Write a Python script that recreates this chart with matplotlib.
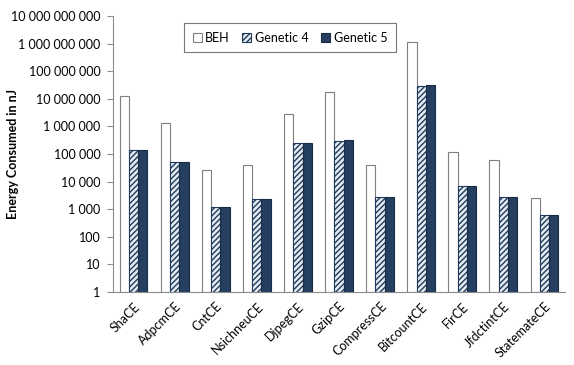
import numpy as np
import matplotlib as mpl
import matplotlib.pyplot as plt
from matplotlib.ticker import FixedLocator

plt.rcParams['font.family'] = ['Lato', 'DejaVu Sans']
mpl.rcParams['hatch.linewidth'] = 1.0

benchmarks = ['ShaCE', 'AdpcmCE', 'CntCE', 'NsichneuCE', 'DjpegCE', 'GzipCE',
              'CompressCE', 'BitcountCE', 'FirCE', 'JfdctintCE', 'StatemateCE']
beh = [1.3e7, 1.3e6, 2.7e4, 4.0e4, 2.9e6, 1.7e7, 3.9e4, 1.15e9, 1.15e5, 6.3e4, 2.5e3]
genetic4 = [1.4e5, 5.1e4, 1.2e3, 2.3e3, 2.5e5, 3.0e5, 2.8e3, 3.0e7, 6.9e3, 2.8e3, 620]
genetic5 = [1.4e5, 5.2e4, 1.2e3, 2.3e3, 2.6e5, 3.1e5, 2.8e3, 3.1e7, 6.9e3, 2.8e3, 620]
y_ticks = [10 ** k for k in range(11)]

fig = plt.figure(figsize=(5.74, 3.65), dpi=100)
ax = fig.add_axes([113 / 574, 1 - 292 / 365, 452 / 574, 276 / 365])

x = np.arange(len(benchmarks))
w = 0.225
dark = '#243f60'
ax.bar(x - w, beh, w, bottom=1, color='white', edgecolor='#7f7f7f', lw=0.8, label='BEH')
ax.bar(x, genetic4, w, bottom=1, color='#e4ebf3', edgecolor='#1f3a5a', hatch='//////', lw=0.8, label='Genetic 4')
ax.bar(x + w, genetic5, w, bottom=1, color=dark, edgecolor='#1a2c44', lw=0.8, label='Genetic 5')

ax.set_yscale('log')
ax.set_ylim(1, 1e10)
ax.set_xlim(-0.5, len(benchmarks) - 0.5)
ax.yaxis.set_major_locator(FixedLocator(y_ticks))
ax.yaxis.set_minor_locator(FixedLocator([]))
ax.set_yticklabels(['{:,}'.format(v).replace(',', ' ') for v in y_ticks], fontsize=9)
ax.set_xticks(x)
ax.set_xticklabels(benchmarks, rotation=45, ha='right', rotation_mode='anchor', fontsize=9)
ax.tick_params(axis='x', length=0, pad=6)
ax.tick_params(axis='y', length=4, color='#8c8c8c', pad=5)
for s in ['top', 'right']:
    ax.spines[s].set_visible(False)
for s in ['left', 'bottom']:
    ax.spines[s].set_color('#8c8c8c')
ax.set_ylabel('Energy Consumed in nJ', fontsize=9, fontweight='bold')
ax.yaxis.set_label_coords(-94 / 452, 0.5)

leg = ax.legend(ncol=3, loc='upper left', bbox_to_anchor=(71 / 452, 0.975), frameon=True,
                fancybox=False, edgecolor='#555555', fontsize=9, handlelength=0.7,
                handleheight=0.7, columnspacing=1.0, handletextpad=0.3, borderpad=0.7,
                borderaxespad=0)
leg.get_frame().set_linewidth(0.8)

fig.savefig('out.png', dpi=100)
